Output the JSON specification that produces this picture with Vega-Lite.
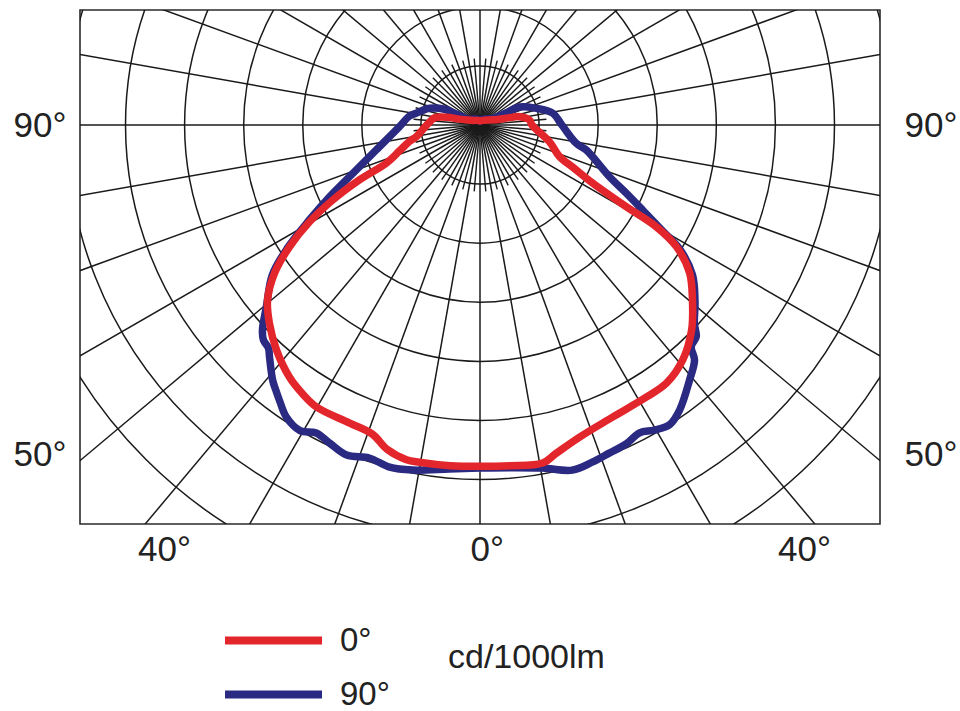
{
  "$schema": "https://vega.github.io/schema/vega-lite/v6.json",
  "width": 800,
  "height": 514,
  "autosize": {"type": "none"},
  "padding": {"left": 80, "top": 10, "right": 80, "bottom": 187},
  "background": "white",
  "config": {
    "view": {"stroke": "#2a2a2a", "strokeWidth": 1.6},
    "font": "Liberation Sans"
  },
  "datasets": {
    "rings": [{"cd": 50}, {"cd": 100}, {"cd": 150}, {"cd": 200}, {"cd": 250}, {"cd": 300}, {"cd": 350}, {"cd": 400}],
    "spokes10": [{"angle": 0}, {"angle": 10}, {"angle": 20}, {"angle": 30}, {"angle": 40}, {"angle": 50}, {"angle": 60}, {"angle": 70}, {"angle": 80}, {"angle": 90}, {"angle": 100}, {"angle": 110}, {"angle": 120}, {"angle": 130}, {"angle": 140}, {"angle": 150}, {"angle": 160}, {"angle": 170}, {"angle": 180}, {"angle": 190}, {"angle": 200}, {"angle": 210}, {"angle": 220}, {"angle": 230}, {"angle": 240}, {"angle": 250}, {"angle": 260}, {"angle": 270}, {"angle": 280}, {"angle": 290}, {"angle": 300}, {"angle": 310}, {"angle": 320}, {"angle": 330}, {"angle": 340}, {"angle": 350}],
    "spokes5": [{"angle": 5}, {"angle": 15}, {"angle": 25}, {"angle": 35}, {"angle": 45}, {"angle": 55}, {"angle": 65}, {"angle": 75}, {"angle": 85}, {"angle": 95}, {"angle": 105}, {"angle": 115}, {"angle": 125}, {"angle": 135}, {"angle": 145}, {"angle": 155}, {"angle": 165}, {"angle": 175}, {"angle": 185}, {"angle": 195}, {"angle": 205}, {"angle": 215}, {"angle": 225}, {"angle": 235}, {"angle": 245}, {"angle": 255}, {"angle": 265}, {"angle": 275}, {"angle": 285}, {"angle": 295}, {"angle": 305}, {"angle": 315}, {"angle": 325}, {"angle": 335}, {"angle": 345}, {"angle": 355}],
    "curves": [
      {"plane": "0°", "angle": -180, "cd": 3}, {"plane": "0°", "angle": -150, "cd": 4}, {"plane": "0°", "angle": -125, "cd": 6}, {"plane": "0°", "angle": -112, "cd": 10}, {"plane": "0°", "angle": -106, "cd": 16}, {"plane": "0°", "angle": -103, "cd": 26}, {"plane": "0°", "angle": -99, "cd": 34.5}, {"plane": "0°", "angle": -95, "cd": 37}, {"plane": "0°", "angle": -90, "cd": 40}, {"plane": "0°", "angle": -80, "cd": 48}, {"plane": "0°", "angle": -76.9, "cd": 54.3}, {"plane": "0°", "angle": -72.2, "cd": 63.4}, {"plane": "0°", "angle": -67.9, "cd": 75.7}, {"plane": "0°", "angle": -65.5, "cd": 99.4}, {"plane": "0°", "angle": -63, "cd": 123.9}, {"plane": "0°", "angle": -60.4, "cd": 147}, {"plane": "0°", "angle": -57.4, "cd": 169.6}, {"plane": "0°", "angle": -54.2, "cd": 190}, {"plane": "0°", "angle": -50.5, "cd": 206.5}, {"plane": "0°", "angle": -46.7, "cd": 217}, {"plane": "0°", "angle": -42.1, "cd": 227.6}, {"plane": "0°", "angle": -37.1, "cd": 237}, {"plane": "0°", "angle": -33.5, "cd": 241.5}, {"plane": "0°", "angle": -30.1, "cd": 244.5}, {"plane": "0°", "angle": -23.6, "cd": 244}, {"plane": "0°", "angle": -19.2, "cd": 245.5}, {"plane": "0°", "angle": -16, "cd": 253}, {"plane": "0°", "angle": -12.4, "cd": 257}, {"plane": "0°", "angle": -10.2, "cd": 257}, {"plane": "0°", "angle": -5, "cd": 256.5}, {"plane": "0°", "angle": 0, "cd": 256}, {"plane": "0°", "angle": 5, "cd": 256.5}, {"plane": "0°", "angle": 10.5, "cd": 257.8}, {"plane": "0°", "angle": 13.1, "cd": 252.7}, {"plane": "0°", "angle": 17.7, "cd": 245.7}, {"plane": "0°", "angle": 24.4, "cd": 240.6}, {"plane": "0°", "angle": 31.5, "cd": 239.2}, {"plane": "0°", "angle": 35.9, "cd": 238.8}, {"plane": "0°", "angle": 40.8, "cd": 232.7}, {"plane": "0°", "angle": 45.9, "cd": 221}, {"plane": "0°", "angle": 50.5, "cd": 206.5}, {"plane": "0°", "angle": 54.8, "cd": 192.4}, {"plane": "0°", "angle": 58.2, "cd": 173.5}, {"plane": "0°", "angle": 60, "cd": 152.6}, {"plane": "0°", "angle": 60.8, "cd": 125.6}, {"plane": "0°", "angle": 62.7, "cd": 95.3}, {"plane": "0°", "angle": 65.6, "cd": 76.2}, {"plane": "0°", "angle": 68.3, "cd": 64.2}, {"plane": "0°", "angle": 76.3, "cd": 53.7}, {"plane": "0°", "angle": 90, "cd": 39}, {"plane": "0°", "angle": 95.8, "cd": 37.3}, {"plane": "0°", "angle": 101.9, "cd": 30.3}, {"plane": "0°", "angle": 104, "cd": 22}, {"plane": "0°", "angle": 108, "cd": 13}, {"plane": "0°", "angle": 115, "cd": 9}, {"plane": "0°", "angle": 135, "cd": 5}, {"plane": "0°", "angle": 150, "cd": 4}, {"plane": "0°", "angle": 180, "cd": 3},
      {"plane": "90°", "angle": -180, "cd": 3}, {"plane": "90°", "angle": -150, "cd": 5}, {"plane": "90°", "angle": -130, "cd": 7}, {"plane": "90°", "angle": -117, "cd": 9}, {"plane": "90°", "angle": -115, "cd": 19}, {"plane": "90°", "angle": -114, "cd": 29}, {"plane": "90°", "angle": -108.3, "cd": 40}, {"plane": "90°", "angle": -100.4, "cd": 48.7}, {"plane": "90°", "angle": -97.3, "cd": 53.3}, {"plane": "90°", "angle": -88.8, "cd": 60.4}, {"plane": "90°", "angle": -76.5, "cd": 80}, {"plane": "90°", "angle": -69.2, "cd": 102}, {"plane": "90°", "angle": -64.5, "cd": 125}, {"plane": "90°", "angle": -60.9, "cd": 146.5}, {"plane": "90°", "angle": -57.4, "cd": 171.5}, {"plane": "90°", "angle": -54.2, "cd": 192}, {"plane": "90°", "angle": -49.6, "cd": 210.4}, {"plane": "90°", "angle": -46.7, "cd": 224.2}, {"plane": "90°", "angle": -45.2, "cd": 228.9}, {"plane": "90°", "angle": -43.5, "cd": 230.5}, {"plane": "90°", "angle": -42.2, "cd": 235}, {"plane": "90°", "angle": -39.1, "cd": 246.6}, {"plane": "90°", "angle": -37.6, "cd": 251}, {"plane": "90°", "angle": -35.9, "cd": 256}, {"plane": "90°", "angle": -33.6, "cd": 262.7}, {"plane": "90°", "angle": -30.5, "cd": 266}, {"plane": "90°", "angle": -28, "cd": 261.6}, {"plane": "90°", "angle": -25.3, "cd": 263.9}, {"plane": "90°", "angle": -22, "cd": 267}, {"plane": "90°", "angle": -18.4, "cd": 263.2}, {"plane": "90°", "angle": -14.8, "cd": 265.4}, {"plane": "90°", "angle": -11.1, "cd": 263.7}, {"plane": "90°", "angle": -5.1, "cd": 259}, {"plane": "90°", "angle": 0, "cd": 257.3}, {"plane": "90°", "angle": 5, "cd": 258}, {"plane": "90°", "angle": 10.3, "cd": 261.5}, {"plane": "90°", "angle": 15, "cd": 268}, {"plane": "90°", "angle": 18.5, "cd": 266.5}, {"plane": "90°", "angle": 21.5, "cd": 264.5}, {"plane": "90°", "angle": 24.7, "cd": 263}, {"plane": "90°", "angle": 27.4, "cd": 260}, {"plane": "90°", "angle": 29.7, "cd": 263.5}, {"plane": "90°", "angle": 32.3, "cd": 266}, {"plane": "90°", "angle": 35, "cd": 261}, {"plane": "90°", "angle": 39.4, "cd": 247.6}, {"plane": "90°", "angle": 42.4, "cd": 238.6}, {"plane": "90°", "angle": 43.6, "cd": 229.7}, {"plane": "90°", "angle": 45.6, "cd": 227}, {"plane": "90°", "angle": 47.2, "cd": 219.1}, {"plane": "90°", "angle": 50.5, "cd": 209}, {"plane": "90°", "angle": 54.8, "cd": 195}, {"plane": "90°", "angle": 58.2, "cd": 176}, {"plane": "90°", "angle": 60, "cd": 157}, {"plane": "90°", "angle": 62.4, "cd": 137.6}, {"plane": "90°", "angle": 65, "cd": 121}, {"plane": "90°", "angle": 68.2, "cd": 104.6}, {"plane": "90°", "angle": 76.8, "cd": 81.8}, {"plane": "90°", "angle": 79.2, "cd": 73.5}, {"plane": "90°", "angle": 90, "cd": 61.4}, {"plane": "90°", "angle": 99.4, "cd": 55.1}, {"plane": "90°", "angle": 106.5, "cd": 44}, {"plane": "90°", "angle": 114.5, "cd": 32.6}, {"plane": "90°", "angle": 115, "cd": 21.5}, {"plane": "90°", "angle": 116, "cd": 11.8}, {"plane": "90°", "angle": 130, "cd": 7}, {"plane": "90°", "angle": 150, "cd": 5}, {"plane": "90°", "angle": 180, "cd": 3}
    ]
  },
  "layer": [
    {
      "data": {"name": "rings"},
      "transform": [{"calculate": "0", "as": "o"}],
      "mark": {"type": "point", "shape": "circle", "filled": false, "color": "#1a1a1a", "strokeWidth": 1.5, "opacity": 1, "clip": true},
      "encoding": {
        "x": {"field": "o", "type": "quantitative", "scale": {"domain": [-300, 300], "nice": false, "zero": false},
          "axis": {"orient": "bottom", "values": [-237, 5, 243], "labelExpr": "datum.value == 5 ? '0°' : '40°'", "ticks": false, "tickSize": 0, "domain": false, "grid": false, "title": null, "labelFontSize": 35, "labelColor": "#222222", "labelPadding": 8, "labelFont": "Liberation Sans", "labelFlush": false, "labelOverlap": false}},
        "y": {"field": "o", "type": "quantitative", "scale": {"domain": [-299.25, 86.25], "nice": false, "zero": false},
          "axis": {"orient": "left", "values": [0, -247], "labelExpr": "datum.value == 0 ? '90°' : '50°'", "ticks": false, "tickSize": 0, "domain": false, "grid": false, "title": null, "labelFontSize": 35, "labelColor": "#222222", "labelPadding": 14, "labelFont": "Liberation Sans", "labelFlush": false, "labelOverlap": false}},
        "size": {"field": "cd", "type": "quantitative", "scale": {"type": "pow", "exponent": 2, "domain": [0, 300], "range": [0, 502655]}, "legend": null}
      }
    },
    {
      "data": {"name": "spokes10"},
      "transform": [
        {"calculate": "0", "as": "o"},
        {"calculate": "600 * sin(datum.angle * PI / 180)", "as": "ex"},
        {"calculate": "-600 * cos(datum.angle * PI / 180)", "as": "ey"}
      ],
      "mark": {"type": "rule", "color": "#1a1a1a", "strokeWidth": 1.5, "clip": true},
      "encoding": {
        "x": {"field": "o", "type": "quantitative", "scale": {"domain": [-300, 300], "nice": false, "zero": false}, "axis": null},
        "y": {"field": "o", "type": "quantitative", "scale": {"domain": [-299.25, 86.25], "nice": false, "zero": false},
          "axis": {"orient": "right", "values": [0, -247], "labelExpr": "datum.value == 0 ? '90°' : '50°'", "ticks": false, "tickSize": 0, "domain": false, "grid": false, "title": null, "labelFontSize": 35, "labelColor": "#222222", "labelPadding": 24, "labelFont": "Liberation Sans", "labelFlush": false, "labelOverlap": false}},
        "x2": {"field": "ex"},
        "y2": {"field": "ey"}
      }
    },
    {
      "data": {"name": "spokes5"},
      "transform": [
        {"calculate": "0", "as": "o"},
        {"calculate": "50 * sin(datum.angle * PI / 180)", "as": "ex"},
        {"calculate": "-50 * cos(datum.angle * PI / 180)", "as": "ey"}
      ],
      "mark": {"type": "rule", "color": "#1a1a1a", "strokeWidth": 1.4, "clip": true},
      "encoding": {
        "x": {"field": "o", "type": "quantitative", "scale": {"domain": [-300, 300], "nice": false, "zero": false}, "axis": null},
        "y": {"field": "o", "type": "quantitative", "scale": {"domain": [-299.25, 86.25], "nice": false, "zero": false}, "axis": null},
        "x2": {"field": "ex"},
        "y2": {"field": "ey"}
      }
    },
    {
      "data": {"name": "curves"},
      "transform": [
        {"filter": "datum.plane == '90°'"},
        {"calculate": "datum.cd * sin(datum.angle * PI / 180)", "as": "px"},
        {"calculate": "-datum.cd * cos(datum.angle * PI / 180)", "as": "py"}
      ],
      "mark": {"type": "line", "strokeWidth": 7.5, "interpolate": "catmull-rom", "clip": true, "strokeCap": "round", "strokeJoin": "round"},
      "encoding": {
        "x": {"field": "px", "type": "quantitative", "scale": {"domain": [-300, 300], "nice": false, "zero": false}, "axis": null},
        "y": {"field": "py", "type": "quantitative", "scale": {"domain": [-299.25, 86.25], "nice": false, "zero": false}, "axis": null},
        "order": {"field": "angle", "type": "quantitative"},
        "color": {"field": "plane", "type": "nominal", "scale": {"domain": ["0°", "90°"], "range": ["#e3262b", "#2b2a83"]},
          "legend": {"orient": "none", "legendX": 177, "legendY": 614, "title": "cd/1000lm", "titleOrient": "right", "titleAnchor": "middle", "titleBaseline": "alphabetic", "titleFontSize": 34, "titleFontWeight": "normal", "titleColor": "#222222", "titleFont": "Liberation Sans", "titlePadding": 58, "titleLimit": 400, "labelFontSize": 33, "labelColor": "#222222", "labelFont": "Liberation Sans", "labelOffset": 50, "labelLimit": 200, "symbolType": "M-4,0H4", "symbolSize": 588, "symbolStrokeWidth": 8, "rowPadding": 20, "padding": 0}}
      }
    },
    {
      "data": {"name": "curves"},
      "transform": [
        {"filter": "datum.plane == '0°'"},
        {"calculate": "datum.cd * sin(datum.angle * PI / 180)", "as": "px"},
        {"calculate": "-datum.cd * cos(datum.angle * PI / 180)", "as": "py"}
      ],
      "mark": {"type": "line", "strokeWidth": 7.5, "interpolate": "catmull-rom", "clip": true, "strokeCap": "round", "strokeJoin": "round"},
      "encoding": {
        "x": {"field": "px", "type": "quantitative", "scale": {"domain": [-300, 300], "nice": false, "zero": false}, "axis": null},
        "y": {"field": "py", "type": "quantitative", "scale": {"domain": [-299.25, 86.25], "nice": false, "zero": false}, "axis": null},
        "order": {"field": "angle", "type": "quantitative"},
        "color": {"field": "plane", "type": "nominal", "scale": {"domain": ["0°", "90°"], "range": ["#e3262b", "#2b2a83"]},
          "legend": {"orient": "none", "legendX": 177, "legendY": 614, "title": "cd/1000lm", "titleOrient": "right", "titleAnchor": "middle", "titleBaseline": "alphabetic", "titleFontSize": 34, "titleFontWeight": "normal", "titleColor": "#222222", "titleFont": "Liberation Sans", "titlePadding": 58, "titleLimit": 400, "labelFontSize": 33, "labelColor": "#222222", "labelFont": "Liberation Sans", "labelOffset": 50, "labelLimit": 200, "symbolType": "M-4,0H4", "symbolSize": 588, "symbolStrokeWidth": 8, "rowPadding": 20, "padding": 0}}
      }
    }
  ],
  "resolve": {"axis": {"x": "independent", "y": "independent"}}
}
